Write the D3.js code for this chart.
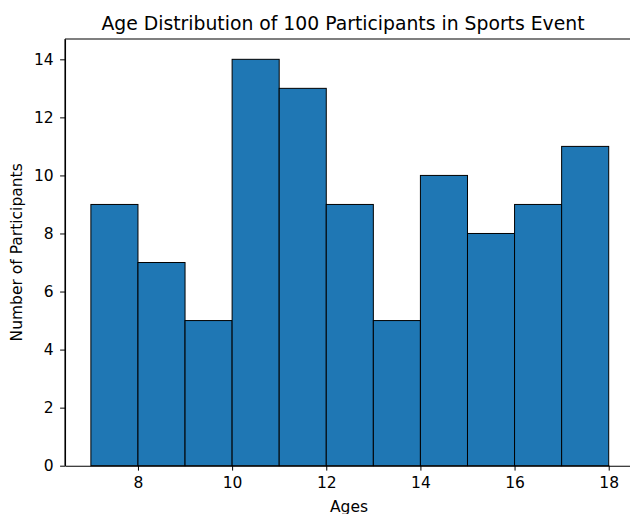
<!DOCTYPE html>
<html><head><meta charset="utf-8">
<script src="https://cdn.jsdelivr.net/npm/d3@7"></script>
<style>body{margin:0;background:#fff}svg{display:block;font-family:"DejaVu Sans",sans-serif}</style>
</head><body>
<script>
const binEdges = [7,8,9,10,11,12,13,14,15,16,17,18];
const counts = [9,7,5,14,13,9,5,10,8,9,11];
const xTicks = [8,10,12,14,16,18];
const yTicks = [0,2,4,6,8,10,12,14];
const title = "Age Distribution of 100 Participants in Sports Event";
const xLabel = "Ages";
const yLabel = "Number of Participants";

(function(){
const W = 630, H = 514;
const mLeft = 65, mRight = 634.6, mTop = 39, mBottom = 465.7;
const svg = d3.select("body").append("svg").attr("width", W).attr("height", H);

const x = d3.scaleLinear().domain([6.45, 18.55]).range([mLeft, mRight]);
const y = d3.scaleLinear().domain([0, 14.7]).range([mBottom, mTop]);

const bins = counts.map((c, i) => ({x0: binEdges[i], x1: binEdges[i+1], c}));
svg.append("g").selectAll("rect").data(bins).join("rect")
  .attr("x", d => x(d.x0)).attr("width", d => x(d.x1) - x(d.x0))
  .attr("y", d => y(d.c)).attr("height", d => y(0) - y(d.c))
  .attr("fill", "#1f77b4").attr("stroke", "#000").attr("stroke-width", 1);

const xAxis = svg.append("g").attr("transform", `translate(0,${mBottom})`)
  .call(d3.axisBottom(x).tickValues(xTicks).tickSize(4.9).tickPadding(6.5).tickSizeOuter(0));
const yAxis = svg.append("g").attr("transform", `translate(${mLeft},0)`)
  .call(d3.axisLeft(y).tickValues(yTicks).tickSize(4.9).tickPadding(6.5).tickSizeOuter(0));
[xAxis, yAxis].forEach(a => {
  a.selectAll("text").attr("font-size", 15.5).attr("fill", "#000").attr("font-family", "DejaVu Sans");
  a.selectAll("line").attr("stroke", "#000").attr("stroke-width", 1);
  a.select(".domain").attr("stroke", "#000").attr("stroke-width", 1.1);
});
svg.append("line").attr("x1", mLeft).attr("x2", mRight).attr("y1", mTop).attr("y2", mTop).attr("stroke", "#000").attr("stroke-width", 1.1);
svg.append("line").attr("x1", mRight).attr("x2", mRight).attr("y1", mTop).attr("y2", mBottom).attr("stroke", "#000").attr("stroke-width", 1.1);
svg.append("line").attr("x1", mLeft).attr("x2", mLeft).attr("y1", mTop).attr("y2", mBottom).attr("stroke", "#000").attr("stroke-width", 1.1);

svg.append("text").attr("x", 343).attr("y", 30).attr("text-anchor", "middle")
  .attr("font-size", 18.8).attr("fill", "#000").text(title);
svg.append("text").attr("x", 349).attr("y", 511.5).attr("text-anchor", "middle")
  .attr("font-size", 15.5).attr("fill", "#000").text(xLabel);
svg.append("text").attr("transform", `translate(22,${(mTop+mBottom)/2}) rotate(-90)`)
  .attr("text-anchor", "middle").attr("font-size", 15.5).attr("fill", "#000").text(yLabel);
})();
</script>
</body></html>
